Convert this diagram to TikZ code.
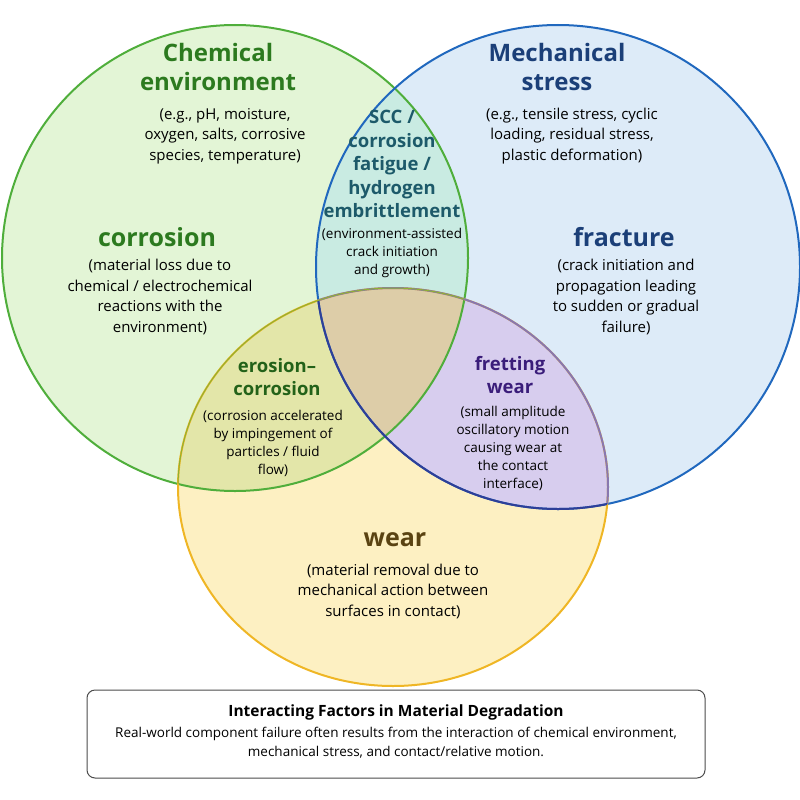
\documentclass[tikz,border=0pt]{standalone}
\usepackage{fontspec}
\setmainfont{Open Sans}
\usetikzlibrary{positioning}
\definecolor{grnline}{HTML}{4FAE3B}
\definecolor{grnfill}{HTML}{E3F5D6}
\definecolor{bluline}{HTML}{2068BE}
\definecolor{blufill}{HTML}{DDEBF8}
\definecolor{yelline}{HTML}{EFB625}
\definecolor{yelfill}{HTML}{FDF0C2}
\definecolor{tealfill}{HTML}{C9EBE2}
\definecolor{olivefill}{HTML}{E3E6A9}
\definecolor{lilafill}{HTML}{D7CDEE}
\definecolor{tanfill}{HTML}{DDCDA8}
\definecolor{grntext}{HTML}{2C7A1F}
\definecolor{blutext}{HTML}{1B3F78}
\definecolor{tealtext}{HTML}{1D5A6A}
\definecolor{purtext}{HTML}{3A1D7A}
\definecolor{brntext}{HTML}{5A4312}
\begin{document}
\begin{tikzpicture}[x=1pt,y=-1pt,align=center,
    head/.style={font=\fontsize{24}{29}\selectfont\bfseries},
    big/.style={font=\fontsize{25}{30}\selectfont\bfseries},
    lens/.style={font=\fontsize{18.5}{23.5}\selectfont\bfseries},
    body/.style={font=\fontsize{15}{20.5}\selectfont},
    small/.style={font=\fontsize{13.5}{18}\selectfont}]
        \useasboundingbox (0,0) rectangle (800,800);
        \def\grn{(235,258) circle (233)}
        \def\blu{(558,267) circle (242)}
        \def\yel{(393,487) ellipse (215 and 199)}

        % circles and overlaps
        \fill[grnfill] \grn;
        \fill[blufill] \blu;
        \fill[yelfill] \yel;
        \begin{scope}\clip \grn; \fill[tealfill] \blu; \fill[olivefill] \yel;\end{scope}
        \begin{scope}\clip \blu; \fill[lilafill] \yel;\end{scope}
        \begin{scope}\clip \grn; \clip \blu; \fill[tanfill] \yel;\end{scope}
        \draw[grnline,line width=2pt] \grn;
        \draw[bluline,line width=2pt] \blu;
        \draw[yelline,line width=2pt] \yel;
        \begin{scope}\clip \blu; \draw[purtext!60,line width=2pt] \yel;\end{scope}
        \begin{scope}\clip \yel; \draw[purtext!55!bluline,line width=2pt] \blu;\end{scope}
        \begin{scope}\clip \grn; \draw[grnline!60!yelline,line width=1pt] \yel;\end{scope}

        % texts
        \node[head,text=grntext] (chem) at (218,67) {Chemical\\environment};
        \node[body] (chemeg) at (225,136) {(e.g., pH, moisture,\\oxygen, salts, corrosive\\species, temperature)};
        \node[big,text=grntext] (corr) at (157,237) {corrosion};
        \node[body] (corrtx) at (160,297) {(material loss due to\\chemical / electrochemical\\reactions with the\\environment)};
        \node[head,text=blutext] (mech) at (557,67) {Mechanical\\stress};
        \node[body] (mecheg) at (572,136) {(e.g., tensile stress, cyclic\\loading, residual stress,\\plastic deformation)};
        \node[big,text=blutext] (frac) at (624,237) {fracture};
        \node[body] (fractx) at (626,297) {(crack initiation and\\propagation leading\\to sudden or gradual\\failure)};
        \node[lens,text=tealtext] (scc) at (392,164) {SCC /\\corrosion\\fatigue /\\hydrogen\\embrittlement};
        \node[small] (scctx) at (392,253) {(environment-assisted\\crack initiation\\and growth)};
        \node[lens,text=grntext!80!black] (eros) at (277,377) {erosion--\\corrosion};
        \node[small] (erostx) at (273,443) {(corrosion accelerated\\by impingement of\\particles / fluid\\flow)};
        \node[lens,text=purtext] (fret) at (510,375) {fretting\\wear};
        \node[small] (frettx) at (513,448) {(small amplitude\\oscillatory motion\\causing wear at\\the contact\\interface)};
        \node[big,text=brntext] (wear) at (395,540) {wear};
        \node[body] (weartx) at (393,591) {(material removal due to\\mechanical action between\\surfaces in contact)};

        % caption box
        \draw[rounded corners=8pt,draw=black!70,line width=1pt,fill=white] (87,690) rectangle (705,778);
        \node[font=\fontsize{15.5}{19}\selectfont\bfseries] (captitle) at (396,712) {Interacting Factors in Material Degradation};
        \node[font=\fontsize{13.5}{19}\selectfont,below=0pt of captitle] (captx) {Real-world component failure often results from the interaction of chemical environment,\\mechanical stress, and contact/relative motion.};
\end{tikzpicture}
\end{document}
